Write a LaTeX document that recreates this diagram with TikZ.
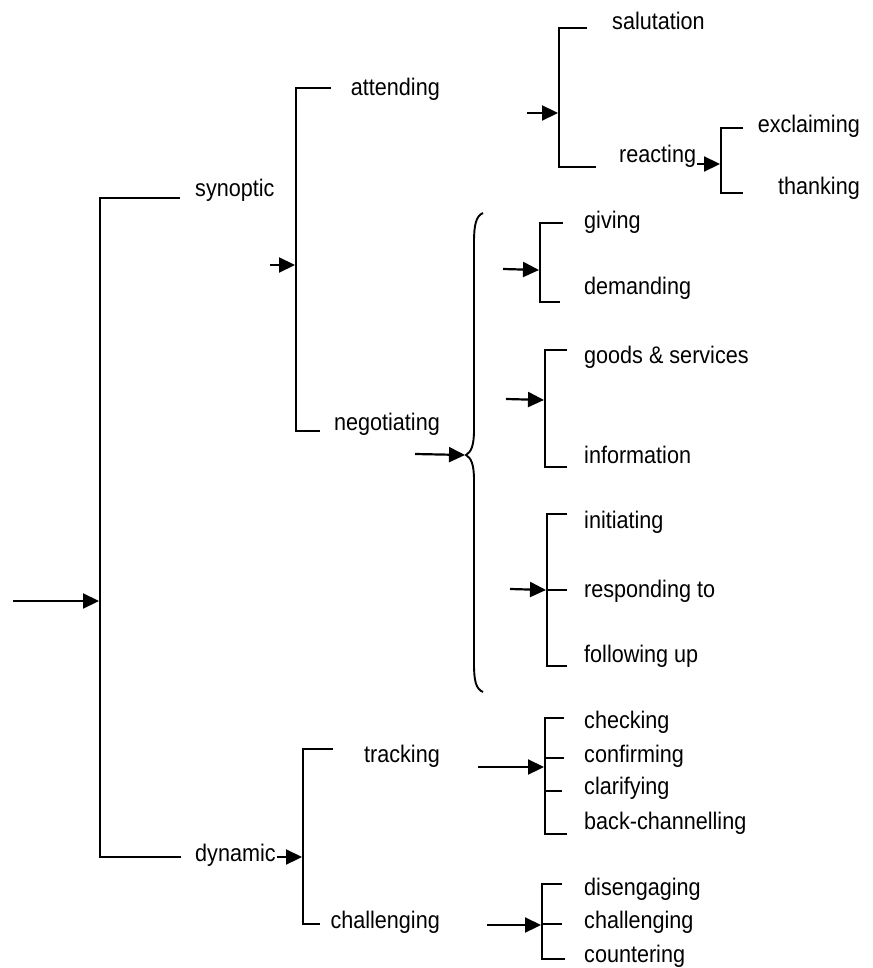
\documentclass[tikz,border=0pt]{standalone}
\usepackage{fontspec}
\setmainfont[FakeStretch=0.9]{Liberation Sans}
\usetikzlibrary{arrows.meta}
\begin{document}
\begin{tikzpicture}[x=1pt,y=-1pt,
  ln/.style={line width=2.2pt},
  arr/.style={line width=2.2pt,-{Triangle[length=16pt,width=15pt]}},
  lbl/.style={inner sep=0pt,font=\fontsize{24}{28}\selectfont},
  lw/.style={lbl,anchor=base west},
  le/.style={lbl,anchor=base east}]
\useasboundingbox (0,0) rectangle (872,968);

% ---------- main bracket ----------
\coordinate (m1) at (180,198); \coordinate (m2) at (100,198);
\coordinate (m3) at (100,857); \coordinate (m4) at (181,857);
\coordinate (m0) at (13,601);  \coordinate (mA) at (99,601);
\draw[ln] (m1) -- (m2) -- (m3) -- (m4);
\draw[arr] (m0) -- (mA);
\node[lw] (syn) at (195,197) {synoptic};
\node[lw] (dyn) at (195,861) {dynamic};

% ---------- synoptic bracket ----------
\coordinate (s1) at (331,88); \coordinate (s2) at (296,88);
\coordinate (s3) at (296,431); \coordinate (s4) at (320,431);
\coordinate (s0) at (270,265); \coordinate (sA) at (295,265);
\draw[ln] (s1) -- (s2) -- (s3) -- (s4);
\draw[arr] (s0) -- (sA);
\node[le] (att) at (440,96) {attending};
\node[le] (neg) at (440,430) {negotiating};

% ---------- attending bracket ----------
\coordinate (a1) at (587,28); \coordinate (a2) at (559,28);
\coordinate (a3) at (559,167); \coordinate (a4) at (596,167);
\coordinate (a0) at (527,113); \coordinate (aA) at (558,113);
\draw[ln] (a1) -- (a2) -- (a3) -- (a4);
\draw[arr] (a0) -- (aA);
\node[lw] (sal) at (612,30) {salutation};
\node[lw] (rea) at (619,163) {reacting};

% ---------- reacting bracket ----------
\coordinate (r1) at (743,128); \coordinate (r2) at (721,128);
\coordinate (r3) at (721,193); \coordinate (r4) at (743,193);
\coordinate (rA) at (720,164);
\draw[ln] (r1) -- (r2) -- (r3) -- (r4);
\draw[arr] (rea.east |- rA) ++(1,0) -- (rA);
\node[le] (exc) at (860,133) {exclaiming};
\node[le] (tha) at (860,195) {thanking};

% ---------- brace ----------
\coordinate (bT) at (483,213); \coordinate (bM) at (466,455); \coordinate (bB) at (483,692);
\draw[line width=1.9pt] (bT) .. controls (476,216) and (474,225) .. (474,242)
  -- (474,430) .. controls (474,446) and (471,452) .. (bM)
  .. controls (471,458) and (474,464) .. (474,480)
  -- (474,664) .. controls (474,681) and (476,689) .. (bB);
\coordinate (b0) at (415,454); \coordinate (bA) at (465,455);
\draw[arr] (b0) -- (bA);

% ---------- giving / demanding ----------
\coordinate (g1) at (563,223); \coordinate (g2) at (540,223);
\coordinate (g3) at (540,302); \coordinate (g4) at (560,302);
\coordinate (g0) at (503,269); \coordinate (gA) at (539,270);
\draw[ln] (g1) -- (g2) -- (g3) -- (g4);
\draw[arr] (g0) -- (gA);
\node[lw] (giv) at (584,229) {giving};
\node[lw] (dem) at (584,294) {demanding};

% ---------- goods / information ----------
\coordinate (o1) at (567,350); \coordinate (o2) at (545,350);
\coordinate (o3) at (545,467); \coordinate (o4) at (567,467);
\coordinate (o0) at (506,399); \coordinate (oA) at (544,400);
\draw[ln] (o1) -- (o2) -- (o3) -- (o4);
\draw[arr] (o0) -- (oA);
\node[lw] (goo) at (584,363) {goods \& services};
\node[lw] (inf) at (584,463) {information};

% ---------- initiating ----------
\coordinate (i1) at (567,514); \coordinate (i2) at (547,514);
\coordinate (i3) at (547,666); \coordinate (i4) at (567,666);
\coordinate (i5) at (547,590); \coordinate (i6) at (567,590);
\coordinate (i0) at (510,589); \coordinate (iA) at (546,590);
\draw[ln] (i1) -- (i2) -- (i3) -- (i4);
\draw[ln] (i5) -- (i6);
\draw[arr] (i0) -- (iA);
\node[lw] (ini) at (584,528) {initiating};
\node[lw] (res) at (584,597) {responding to};
\node[lw] (fol) at (584,662) {following up};

% ---------- dynamic bracket ----------
\coordinate (d1) at (333,749); \coordinate (d2) at (303,749);
\coordinate (d3) at (303,924); \coordinate (d4) at (320,924);
\coordinate (dA) at (302,857);
\draw[ln] (d1) -- (d2) -- (d3) -- (d4);
\draw[arr] (dyn.east |- dA) ++(1,0) -- (dA);
\node[le] (tra) at (440,762) {tracking};
\node[le] (cha) at (440,928) {challenging};

% ---------- tracking bracket ----------
\coordinate (t1) at (564,718); \coordinate (t2) at (545,718);
\coordinate (t3) at (545,834); \coordinate (t4) at (567,834);
\coordinate (t5) at (545,758); \coordinate (t6) at (564,758);
\coordinate (t7) at (545,791); \coordinate (t8) at (562,791);
\coordinate (t0) at (478,767); \coordinate (tA) at (544,767);
\draw[ln] (t1) -- (t2) -- (t3) -- (t4);
\draw[ln] (t5) -- (t6);
\draw[ln] (t7) -- (t8);
\draw[arr] (t0) -- (tA);
\node[lw] (chk) at (584,728) {checking};
\node[lw] (con) at (584,762) {confirming};
\node[lw] (cla) at (584,794) {clarifying};
\node[lw] (bac) at (584,829) {back-channelling};

% ---------- challenging bracket ----------
\coordinate (c1) at (562,884); \coordinate (c2) at (542,884);
\coordinate (c3) at (542,959); \coordinate (c4) at (565,959);
\coordinate (c5) at (542,924); \coordinate (c6) at (562,924);
\coordinate (c0) at (487,925); \coordinate (cA) at (541,925);
\draw[ln] (c1) -- (c2) -- (c3) -- (c4);
\draw[ln] (c5) -- (c6);
\draw[arr] (c0) -- (cA);
\node[lw] (dis) at (584,895) {disengaging};
\node[lw] (chl) at (584,928) {challenging};
\node[lw] (cou) at (584,962) {countering};
\end{tikzpicture}
\end{document}
